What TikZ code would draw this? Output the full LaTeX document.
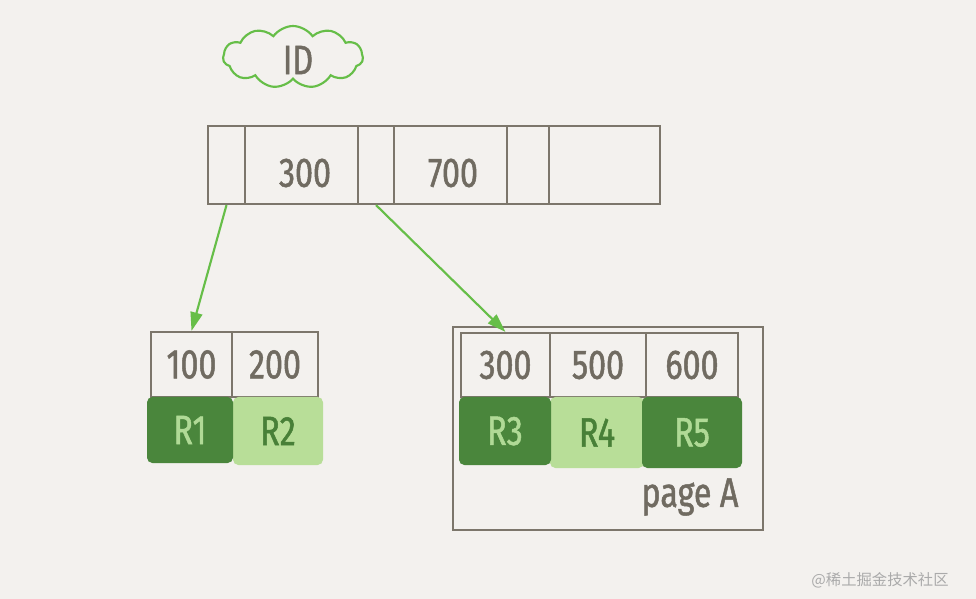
\documentclass[tikz,border=0pt]{standalone}
\usepackage{fontspec}
\setmainfont{Fira Sans}[FakeStretch=0.78, FakeBold=1.2]
\newfontfamily\cjkwm{Noto Sans CJK SC}
\usetikzlibrary{arrows.meta,shapes.symbols}
\definecolor{bgc}{RGB}{243,241,238}
\definecolor{lineg}{RGB}{124,118,107}
\definecolor{txtg}{RGB}{112,107,97}
\definecolor{darkg}{RGB}{74,134,60}
\definecolor{lightg}{RGB}{184,222,152}
\definecolor{ondark}{RGB}{176,218,150}
\definecolor{onlight}{RGB}{72,128,56}
\definecolor{arrowg}{RGB}{102,190,72}
\definecolor{wmg}{RGB}{170,170,170}
\def\pxu{0.75pt}
\tikzset{
  bigtxt/.style={font=\fontsize{31}{31}\selectfont},
  cell/.style={draw=lineg, line width=1.6pt, inner sep=0pt, text=txtg, bigtxt},
  rdark/.style={fill=darkg, rounded corners=4pt, inner sep=0pt, text=ondark, bigtxt},
  rlight/.style={fill=lightg, rounded corners=4pt, inner sep=0pt, text=onlight, bigtxt},
  link/.style={draw=arrowg, line width=1.6pt, -{Triangle[length=14pt,width=9pt]}},
}
\begin{document}
\begin{tikzpicture}[x=0.75pt,y=-0.75pt]
\fill[bgc] (0,0) rectangle (976,599);
\useasboundingbox (0,0) rectangle (976,599);

% cloud label
\node[cloud, cloud puffs=11, cloud puff arc=110, aspect=2.2, draw=arrowg, line width=1.6pt,
      minimum width={140*\pxu}, minimum height={62*\pxu}, inner sep=0pt] (cloudid) at (293,57) {};
\node[text=txtg, bigtxt] (idlbl) at (298,60) {ID};

% root node
\node[cell, minimum width={37*\pxu}, minimum height={78*\pxu}] (c1) at (226.5,165) {};
\node[cell, minimum width={113*\pxu}, minimum height={78*\pxu}] (c2) at (301.5,165) {};
\node[cell, minimum width={36*\pxu}, minimum height={78*\pxu}] (c3) at (376,165) {};
\node[cell, minimum width={113*\pxu}, minimum height={78*\pxu}] (c4) at (450.5,165) {};
\node[cell, minimum width={42*\pxu}, minimum height={78*\pxu}] (c5) at (528,165) {};
\node[cell, minimum width={111*\pxu}, minimum height={78*\pxu}] (c6) at (604.5,165) {};
\node[text=txtg, bigtxt] (t300) at (305,173) {300};
\node[text=txtg, bigtxt] (t700) at (453,173) {700};

% left leaf
\node[cell, minimum width={81*\pxu}, minimum height={65*\pxu}] (l100) at (191.5,364.5) {100};
\node[cell, minimum width={86*\pxu}, minimum height={65*\pxu}] (l200) at (275,364.5) {200};
\node[rlight, minimum width={90*\pxu}, minimum height={68*\pxu}] (r2) at (278,431) {R2};
\node[rdark, minimum width={86*\pxu}, minimum height={66*\pxu}] (r1) at (190,430) {R1};

% page A
\node[draw=lineg, line width=1.6pt, minimum width={310*\pxu}, minimum height={203*\pxu}, inner sep=0pt] (pagea) at (608,428.5) {};
\node[cell, minimum width={89*\pxu}, minimum height={64*\pxu}] (p300) at (505.5,365) {300};
\node[cell, minimum width={96*\pxu}, minimum height={64*\pxu}] (p500) at (598,365) {500};
\node[cell, minimum width={92*\pxu}, minimum height={64*\pxu}] (p600) at (692,365) {600};
\node[rlight, minimum width={94*\pxu}, minimum height={71*\pxu}] (r4) at (597,432.5) {R4};
\node[rdark, minimum width={92*\pxu}, minimum height={68*\pxu}] (r3) at (505,431) {R3};
\node[rdark, minimum width={100*\pxu}, minimum height={71*\pxu}] (r5) at (692,432.5) {R5};
\node[text=txtg, bigtxt] (pglbl) at (690,497) {page A};

% connectors
\draw[link] (c1.south) -- (l100.north);
\draw[link] (c3.south) -- (p300.north);

% watermark
\node[text=wmg, font=\cjkwm\fontsize{11.5}{11.5}\selectfont] (wm) at (880,580) {@稀土掘金技术社区};
\end{tikzpicture}
\end{document}
